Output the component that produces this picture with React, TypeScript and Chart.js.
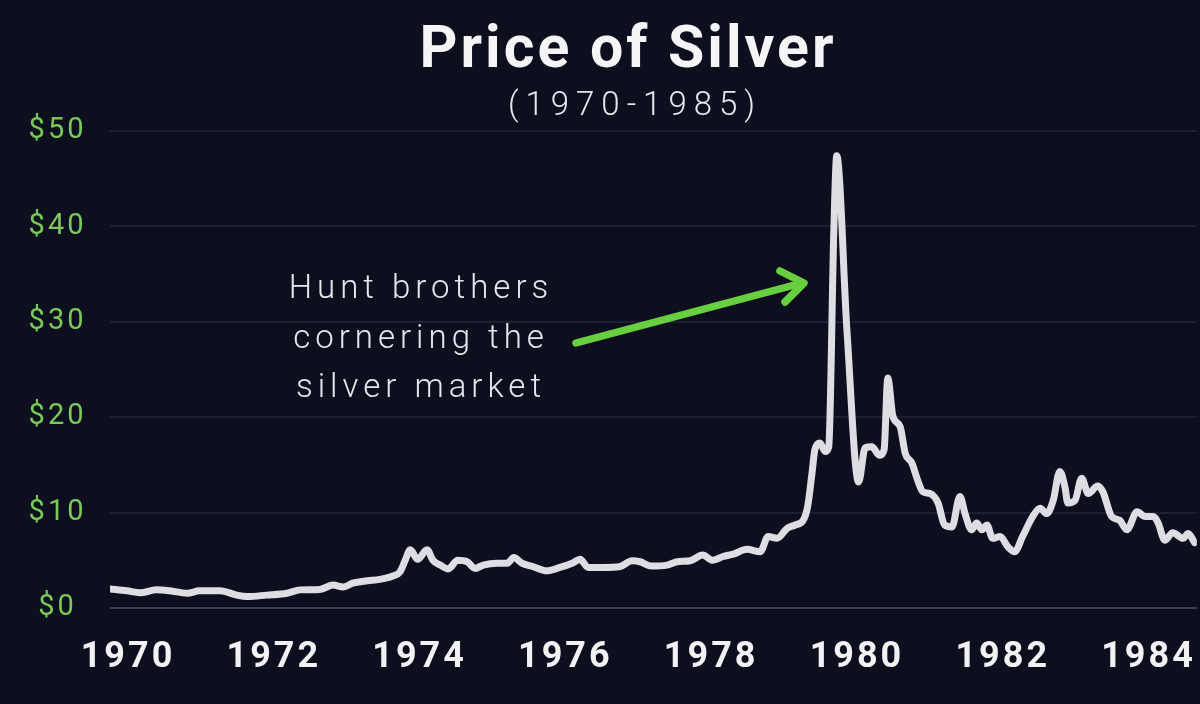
import React, { useEffect, useRef } from "react";
import { Chart, registerables } from "chart.js";

Chart.register(...registerables);

// Price of silver, USD per ounce (fractional years)
const years = [
  1970.0, 1970.23, 1970.41, 1970.64, 1970.82, 1971.06, 1971.23, 1971.51, 1971.74, 1971.88,
  1972.15, 1972.43, 1972.61, 1972.88, 1973.06, 1973.2, 1973.33, 1973.53, 1973.7, 1973.88,
  1973.98, 1974.05, 1974.12, 1974.22, 1974.35, 1974.43, 1974.53, 1974.64, 1974.77, 1974.9,
  1975.01, 1975.12, 1975.31, 1975.45, 1975.54, 1975.65, 1975.8, 1975.99, 1976.17, 1976.34,
  1976.45, 1976.56, 1976.76, 1977.0, 1977.16, 1977.27, 1977.43, 1977.64, 1977.78, 1977.96,
  1978.13, 1978.27, 1978.41, 1978.55, 1978.74, 1978.92, 1979.03, 1979.15, 1979.29, 1979.4,
  1979.51, 1979.57, 1979.63, 1979.67, 1979.74, 1979.81, 1979.86, 1979.93, 1979.97, 1980.11,
  1980.27, 1980.36, 1980.45, 1980.56, 1980.62, 1980.67, 1980.74, 1980.84, 1980.91, 1981.0,
  1981.08, 1981.15, 1981.25, 1981.36, 1981.45, 1981.55, 1981.66, 1981.73, 1981.82, 1981.89,
  1981.96, 1982.03, 1982.11, 1982.21, 1982.32, 1982.41, 1982.52, 1982.66, 1982.76, 1982.85,
  1982.94, 1983.03, 1983.1, 1983.14, 1983.24, 1983.33, 1983.42, 1983.55, 1983.62, 1983.74,
  1983.85, 1983.95, 1984.09, 1984.2, 1984.31, 1984.38, 1984.47, 1984.58, 1984.72, 1984.79,
  1984.88,
];
const prices = [
  2.0, 1.8, 1.6, 1.9, 1.8, 1.55, 1.8, 1.8, 1.35, 1.2,
  1.35, 1.55, 1.9, 1.95, 2.4, 2.2, 2.6, 2.85, 3.0, 3.35,
  3.8, 5.0, 6.1, 5.1, 6.1, 5.0, 4.5, 4.1, 5.0, 4.85,
  4.15, 4.5, 4.7, 4.7, 5.3, 4.7, 4.35, 3.9, 4.25, 4.7,
  5.1, 4.25, 4.25, 4.35, 4.95, 4.85, 4.4, 4.5, 4.85, 4.95,
  5.55, 5.0, 5.4, 5.65, 6.15, 5.9, 7.5, 7.3, 8.35, 8.7,
  9.2, 10.6, 14.1, 16.6, 17.3, 16.4, 16.9, 39.6, 47.4, 29.1,
  13.2, 16.8, 16.9, 16.0, 16.6, 24.1, 20.1, 19.0, 16.2, 15.2,
  13.4, 12.2, 12.0, 11.0, 8.7, 8.5, 11.7, 9.9, 8.2, 8.9,
  8.2, 8.7, 7.3, 7.5, 6.4, 5.9, 7.5, 9.6, 10.45, 9.9,
  11.3, 14.3, 12.7, 11.0, 11.3, 13.6, 12.0, 12.8, 12.2, 9.6,
  9.2, 8.2, 10.1, 9.6, 9.6, 8.9, 7.1, 7.9, 7.3, 7.8,
  6.85,
];
const xTickYears = [1970, 1972, 1974, 1976, 1978, 1980, 1982, 1984];
const yTicks = [0, 10, 20, 30, 40, 50];

const TITLE = "Price of Silver";
const SUBTITLE = "(1970-1985)";
const NOTE_LINES = ["Hunt brothers", "cornering the", "silver market"];

const BG = "#0d0e1e";

const overlayPlugin = {
  id: "overlay",
  beforeDraw(chart: any) {
    const ctx = chart.ctx;
    ctx.save();
    ctx.fillStyle = BG;
    ctx.fillRect(0, 0, chart.width, chart.height);
    ctx.restore();
    (ctx as any).letterSpacing = "3px";
  },
  afterDraw(chart: any) {
    const ctx = chart.ctx;
    ctx.save();
    ctx.textAlign = "center";
    ctx.textBaseline = "alphabetic";

    (ctx as any).letterSpacing = "3px";
    ctx.fillStyle = "#f5f5f7";
    ctx.font = "bold 59px Roboto";
    ctx.fillText(TITLE, 628, 67);

    (ctx as any).letterSpacing = "7px";
    ctx.fillStyle = "#e6e6ec";
    ctx.font = "300 33px Roboto";
    ctx.fillText(SUBTITLE, 635, 115);

    (ctx as any).letterSpacing = "5px";
    ctx.fillStyle = "#e6e6ec";
    ctx.font = "300 33px Roboto";
    NOTE_LINES.forEach((line, i) => {
      ctx.fillText(line, 421, 298 + i * 49.5);
    });

    (ctx as any).letterSpacing = "0px";
    ctx.strokeStyle = "#68cf40";
    ctx.lineWidth = 7.5;
    ctx.lineCap = "round";
    ctx.lineJoin = "round";
    ctx.beginPath();
    ctx.moveTo(576, 343);
    ctx.lineTo(802, 283);
    ctx.stroke();
    ctx.beginPath();
    ctx.moveTo(780, 271);
    ctx.lineTo(804, 283);
    ctx.lineTo(785, 302);
    ctx.stroke();
    ctx.restore();
  },
};

export default function App() {
  const ref = useRef<HTMLCanvasElement | null>(null);

  useEffect(() => {
    document.body.style.margin = "0";
    document.body.style.background = BG;
    const canvas = ref.current;
    if (!canvas) return;
    const points = years.map((x, i) => ({ x, y: prices[i] }));
    const chart = new Chart(canvas, {
      type: "line",
      data: {
        datasets: [
          {
            data: points,
            borderColor: "#dddde3",
            borderWidth: 7,
            pointRadius: 0,
            fill: false,
            cubicInterpolationMode: "monotone",
            borderJoinStyle: "round",
            borderCapStyle: "round",
          },
        ],
      },
      options: {
        animation: false,
        responsive: false,
        devicePixelRatio: 1,
        layout: { padding: { top: 131, right: 3, bottom: 25, left: 0 } },
        plugins: {
          legend: { display: false },
          title: { display: false },
          tooltip: { enabled: false },
        },
        scales: {
          x: {
            type: "linear",
            min: 1970,
            max: 1984.91,
            afterBuildTicks: (scale: any) => {
              scale.ticks = xTickYears.map((v) => ({ value: v }));
            },
            afterFit: (scale: any) => {
              scale.height = 71;
            },
            grid: { display: false, drawTicks: false },
            border: { display: false },
            ticks: {
              autoSkip: false,
              maxRotation: 0,
              padding: 28,
              labelOffset: 18,
              color: "#f2f2f5",
              font: { family: "Roboto", size: 36, weight: "bold" },
              callback: (v: any) => String(v),
            },
          },
          y: {
            min: 0,
            max: 50,
            afterBuildTicks: (scale: any) => {
              scale.ticks = yTicks.map((v) => ({ value: v }));
            },
            afterFit: (scale: any) => {
              scale.width = 110;
            },
            grid: {
              drawTicks: false,
              lineWidth: 2,
              color: (c: any) => (c.tick && c.tick.value === 0 ? "#3c3e52" : "#1d1f33"),
            },
            border: { display: false },
            ticks: {
              padding: 28,
              crossAlign: "center",
              color: "#7ac95a",
              font: { family: "Roboto", size: 29, weight: "normal" },
              callback: (v: any) => "$" + v,
            },
          },
        },
      },
      plugins: [overlayPlugin],
    } as any);
    return () => chart.destroy();
  }, []);

  return (
    <div style={{ position: "absolute", left: 0, top: 0, width: 1200, height: 704, background: BG }}>
      <canvas ref={ref} width={1200} height={704} style={{ width: 1200, height: 704, display: "block" }} />
    </div>
  );
}
